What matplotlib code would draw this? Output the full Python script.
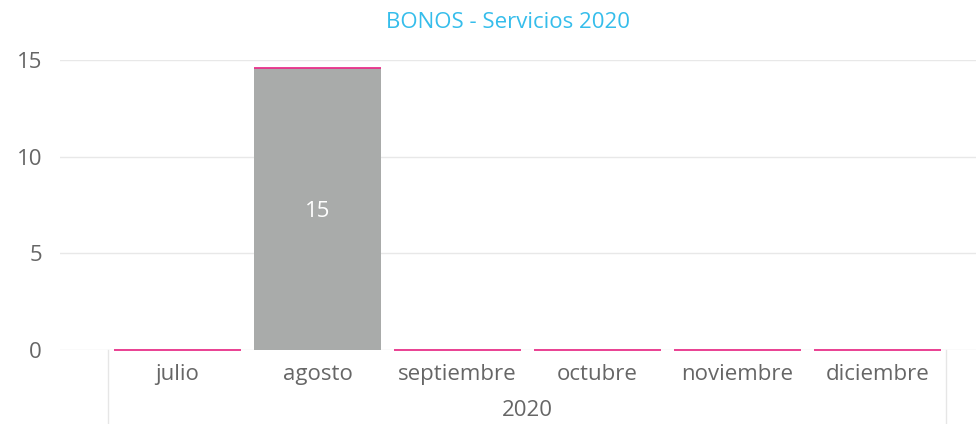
import matplotlib
matplotlib.use("Agg")
import matplotlib.pyplot as plt
from matplotlib.lines import Line2D

plt.rcParams['font.family'] = ['Open Sans', 'DejaVu Sans']

months = ["julio", "agosto", "septiembre", "octubre", "noviembre", "diciembre"]
year_label = "2020"
gray_values = [0, 14.6, 0, 0, 0, 0]
pink_values = [0, 0, 0, 0, 0, 0]
yticks = [0, 5, 10, 15]

TXT = "#666666"
FS = 16

W, H = 976, 424
fig = plt.figure(figsize=(W / 100, H / 100), dpi=100)
left, right, bottom, top = 60, 976, 350, 60
ax = fig.add_axes([left / W, 1 - bottom / H, (right - left) / W, (bottom - top) / H])

x = list(range(len(months)))
bw = 0.907
ax.bar(x, gray_values, width=bw, color="#A9ABAA", linewidth=0, zorder=2)
# zero-valued stacked series drawn as thin line on top of the stack
for xi, g, p in zip(x, gray_values, pink_values):
    ax.plot([xi - bw / 2, xi + bw / 2], [g + p, g + p], color="#E8318A", lw=1.3,
            zorder=3, solid_capstyle="butt", clip_on=False)

for xi, g in zip(x, gray_values):
    if g > 0:
        ax.text(xi, g / 2, f"{round(g):d}", ha="center", va="center_baseline",
                color="white", fontsize=FS)

ax.set_xlim((60 - 177.5) / 140, (976 - 177.5) / 140)
ax.set_ylim(0, 15)
ax.set_yticks(yticks)
ax.set_yticklabels([str(t) for t in yticks], color=TXT, fontsize=FS)
ax.tick_params(axis="y", length=0, pad=13)
ax.grid(axis="y", color="#E8E8E8", lw=1, zorder=0)
ax.set_xticks(x)
ax.set_xticklabels(months, color=TXT, fontsize=FS)
ax.tick_params(axis="x", length=0, pad=10)
for s in ax.spines.values():
    s.set_visible(False)

# separator lines for the year grouping
for px in (108, 946):
    fig.add_artist(Line2D([px / W, px / W], [0, 1 - 350 / H], color="#E6E6E6", lw=1))
fig.text(527 / W, 1 - 411 / H, year_label, ha="center", va="center", color=TXT, fontsize=FS)

fig.text(508 / W, 1 - 22 / H, "BONOS - Servicios 2020", ha="center", va="center",
         color="#35BDEB", fontsize=FS)

fig.savefig("out.png", dpi=100)
